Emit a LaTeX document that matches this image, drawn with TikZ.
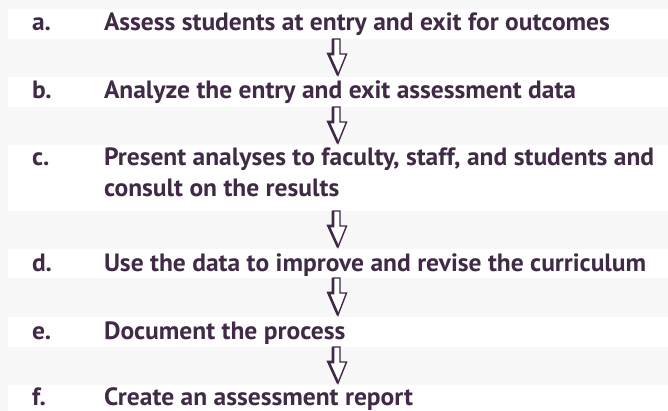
\documentclass[tikz,border=0pt]{standalone}
\usepackage{fontspec}
\usetikzlibrary{calc}
\newfontfamily\stepfont{PT Sans}[FakeStretch=1.02]
\definecolor{ink}{RGB}{64,42,70}
\definecolor{bg}{RGB}{247,247,247}
\newcommand\stepArrow[2]{%
  \filldraw[arrowline]
    ($(#1.south west)+(325,0)$) coordinate (#1#2s)
    -- ++(0,15) -- ++(-4.5,0)
    -- ($(#2.north west)+(330,-2)$) coordinate (#1#2t)
    -- ($(#1#2s)+(13.5,15)$) -- ($(#1#2s)+(7,15)$) -- ($(#1#2s)+(7,0)$) -- cycle;
  \draw[arrowshade] (#1#2s) -- ++(0,15) -- ++(-4.5,0) -- (#1#2t);
}
\begin{document}
\begin{tikzpicture}[x=1pt,y=-1pt,
  band/.style={fill=white, draw=none, anchor=north west, minimum width=660pt, inner sep=0pt, outer sep=0pt},
  lbl/.style={anchor=base west, inner sep=0pt, outer sep=0pt, text=ink, font=\stepfont\bfseries\fontsize{25}{31}\selectfont},
  txt/.style={lbl},
  arrowline/.style={draw=ink, fill=white, line width=1.4pt, line join=miter},
  arrowshade/.style={draw=ink, line width=2.6pt, line join=miter}]
\fill[bg] (0,0) rectangle (668,411);
\useasboundingbox (0,0) rectangle (668,411);
\node[band, minimum height=30pt] (A) at (8,9) {};
\node[band, minimum height=30pt] (B) at (8,77) {};
\node[band, minimum height=66pt] (C) at (8,145) {};
\node[band, minimum height=29pt] (D) at (8,249) {};
\node[band, minimum height=30pt] (E) at (8,317) {};
\node[band, minimum height=26pt] (F) at (8,385) {};
\node[lbl] (la) at (32,31) {a.};
\node[txt] (ta) at (104,31) {Assess students at entry and exit for outcomes};
\node[lbl] (lb) at (32,99) {b.};
\node[txt] (tb) at (104,99) {Analyze the entry and exit assessment data};
\node[lbl] (lc) at (32,166) {c.};
\node[txt] (tc) at (104,166) {Present analyses to faculty, staff, and students and};
\node[txt] (tc2) at (104,197) {consult on the results};
\node[lbl] (ld) at (32,271) {d.};
\node[txt] (td) at (104,271) {Use the data to improve and revise the curriculum};
\node[lbl] (le) at (32,339) {e.};
\node[txt] (te) at (104,339) {Document the process};
\node[lbl] (lf) at (32,405) {f.};
\node[txt] (tf) at (104,405) {Create an assessment report};
\stepArrow{A}{B}
\stepArrow{B}{C}
\stepArrow{C}{D}
\stepArrow{D}{E}
\stepArrow{E}{F}
\end{tikzpicture}
\end{document}
